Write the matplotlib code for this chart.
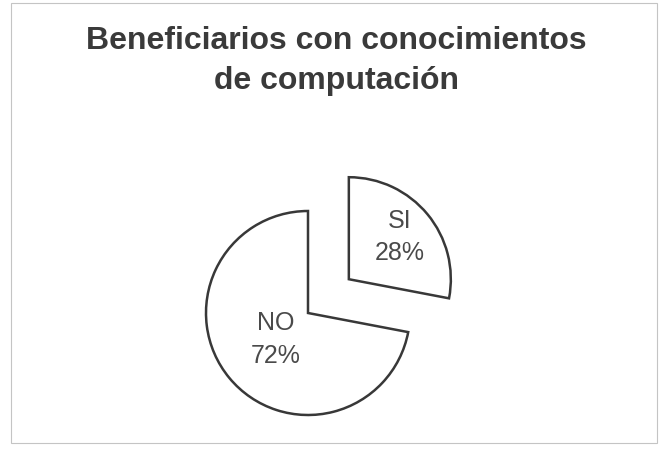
import matplotlib.pyplot as plt
from matplotlib.patches import Rectangle
import numpy as np

# --- DATA ---
categorias = ["SI", "NO"]
porcentajes = [28, 72]
separacion = [53, 0]          # SI slice pulled out
dist_etiqueta = [0.65, 0.41]  # label distance (fraction of radius)

titulo = "Beneficiarios con conocimientos\nde computación"

W, H = 663, 449
fig = plt.figure(figsize=(W / 100, H / 100), dpi=100)
fig.patch.set_facecolor("white")
ax = fig.add_axes([0, 0, 1, 1])

# pie in pixel-like data coords (y up)
centro = (308, H - 313)
radio = 102
wedges, _ = ax.pie(porcentajes, explode=separacion, radius=radio, center=centro,
                   startangle=90, counterclock=False,
                   colors=["white", "white"],
                   wedgeprops=dict(edgecolor="#383838", linewidth=1.8))

for w, cat, pct, d in zip(wedges, categorias, porcentajes, dist_etiqueta):
    ang = np.deg2rad((w.theta1 + w.theta2) / 2)
    cx, cy = w.center
    ax.text(cx + d * radio * np.cos(ang), cy + d * radio * np.sin(ang),
            f"{cat}\n{pct}%", ha="center", va="center", fontsize=18,
            color="#4a4a4a", family="Liberation Sans", linespacing=1.45)

ax.set_xlim(0, W)
ax.set_ylim(0, H)
ax.set_aspect("auto")
ax.axis("off")

# scanned frame
ax.add_patch(Rectangle((11, H - 443), 646, 440, fill=False,
                       edgecolor="#c4c4c4", linewidth=0.8))

fig.text(336 / W, 1 - 61 / H, titulo, ha="center", va="center",
         fontsize=23, fontweight="bold", color="#3a3a3a",
         family="Liberation Sans", linespacing=1.45)

fig.savefig("out.png", dpi=100, facecolor="white")
